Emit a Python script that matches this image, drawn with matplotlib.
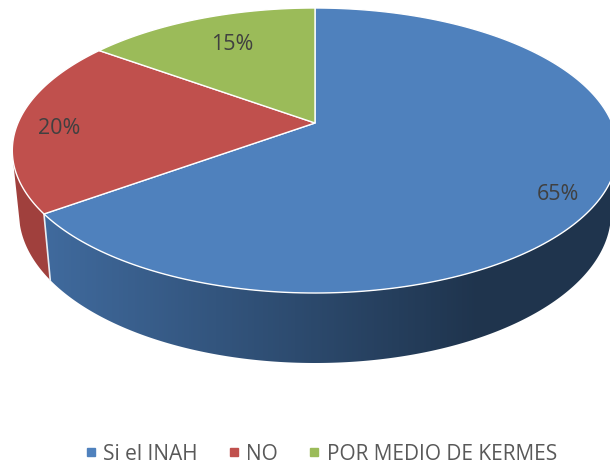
import numpy as np
import matplotlib
matplotlib.use("Agg")
import matplotlib.pyplot as plt
from matplotlib.colors import LinearSegmentedColormap
from matplotlib.patches import Polygon

labels = ['Si el INAH', 'NO', 'POR MEDIO DE KERMES']
values = [65, 20, 15]
colors = ['#4f81bd', '#c0504d', '#9bbb59']
pct_labels = ['65%', '20%', '15%']

# perspective of the pie, in pixels of the picture
cx, cy = 315, 123
R, k, c = 297, 137.2, 0.193
# lower rim is its own ellipse
low_cy, low_rx, low_ry = 213, 296, 150
shrink = 296 / 303


def top(a):
    # a = clockwise angle from 12 o'clock, radians
    w = 1 + c * np.cos(a)
    return cx + R * np.sin(a) / w, cy - k * np.cos(a) / w


def bottom(a):
    x = cx + (top(a)[0] - cx) * shrink
    return x, low_cy + low_ry * np.sqrt(np.clip(1 - ((x - cx) / low_rx) ** 2, 0, 1))


fig = plt.figure(figsize=(6.1, 4.65), dpi=100)
ax = fig.add_axes([0, 0, 1, 1])

fracs = np.array(values) / sum(values)
edges = np.concatenate([[0], np.cumsum(fracs)]) * 2 * np.pi
vis0, vis1 = np.radians(101), np.radians(255)

# side walls, only the front part is visible
blue_side = np.linspace(vis0, edges[1], 300)
xt, yt = top(blue_side)
xb, yb = bottom(blue_side)
blue_poly = Polygon(np.vstack([np.column_stack([xt, yt]), np.column_stack([xb, yb])[::-1]]),
                    facecolor='none', edgecolor='none')
ax.add_patch(blue_poly)
# blue wall darkens from left to right
side_cmap = LinearSegmentedColormap.from_list('side', [(0, '#416ca0'), (0.776, '#1f344d'), (1, '#1f344d')])
grad = np.linspace(0, 1, 580).reshape(1, -1)
im = ax.imshow(grad, extent=[30, 610, 465, 0], cmap=side_cmap, aspect='auto', zorder=1)
im.set_clip_path(blue_poly)

red_side = np.linspace(edges[1], vis1, 100)
xt, yt = top(red_side)
xb, yb = bottom(red_side)
ax.add_patch(Polygon(np.vstack([np.column_stack([xt, yt]), np.column_stack([xb, yb])[::-1]]),
                     facecolor='#a0403d', edgecolor='none', zorder=1))

# white seam between the two side walls
xt, yt = top(edges[1])
xb, yb = bottom(edges[1])
ax.plot([xt, xb], [yt, yb], color='#e8edf3', lw=1.2, zorder=2)

# top faces
for i in range(3):
    angs = np.linspace(edges[i], edges[i + 1], 200)
    xs, ys = top(angs)
    pts = np.vstack([[cx, cy], np.column_stack([xs, ys])])
    ax.add_patch(Polygon(pts, closed=True, facecolor=colors[i], edgecolor='white', lw=1.0, joinstyle='round', zorder=3))

ax.text(558, 194, pct_labels[0], fontsize=15.5, color='#404040', family='Open Sans', ha='center', va='center', zorder=4)
ax.text(59, 128, pct_labels[1], fontsize=15.5, color='#404040', family='Open Sans', ha='center', va='center', zorder=4)
ax.text(232, 44, pct_labels[2], fontsize=15.5, color='#404040', family='Open Sans', ha='center', va='center', zorder=4)

# legend
handles = [plt.Line2D([], [], ls='', marker='s', ms=6, color=col) for col in colors]
ax.legend(handles, labels, loc='center', bbox_to_anchor=(318.5 / 610, 1 - 454 / 465), ncol=3, frameon=False,
          prop={'family': 'Open Sans', 'size': 15}, labelcolor='#595959', handlelength=1.0, handletextpad=0.1,
          columnspacing=1.23, borderaxespad=0, borderpad=0)

ax.set_xlim(0, 610)
ax.set_ylim(465, 0)
ax.axis('off')

fig.savefig('out.png', dpi=100)
